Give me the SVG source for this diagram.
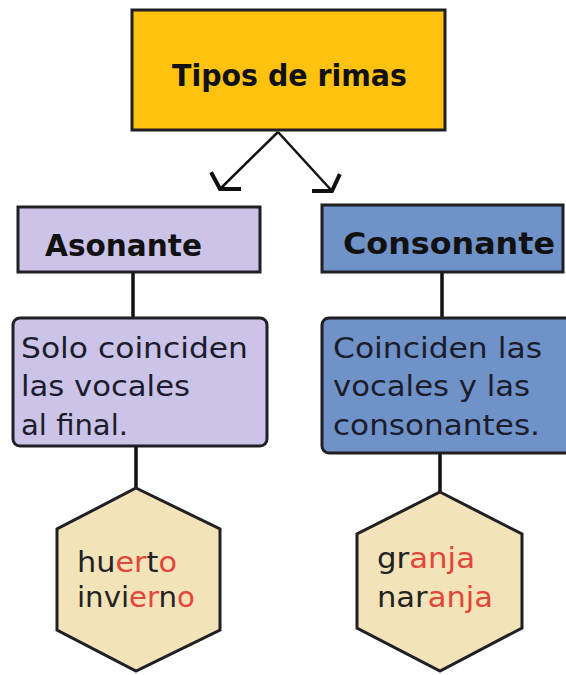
<svg xmlns="http://www.w3.org/2000/svg" width="566" height="675" viewBox="0 0 566 675">
<style>
.box{stroke:#1f1f24;stroke-width:3}
.title{font-family:"DejaVu Sans","Liberation Sans",sans-serif;font-weight:bold;fill:#111}
.desc{font-family:"DejaVu Sans","Liberation Sans",sans-serif;font-size:29px;fill:#1c1c2c}
.word{font-family:"DejaVu Sans","Liberation Sans",sans-serif;font-size:28px;fill:#222}
.r{fill:#e2463a}
.conn{stroke:#111;stroke-width:3.5;fill:none}
.arrow{stroke:#111;stroke-width:2.5;fill:none}
.head{stroke:#111;stroke-width:4;fill:none;stroke-linecap:square;stroke-linejoin:miter}
</style>
<rect width="566" height="675" fill="#ffffff"/>
<g id="connectors">
<line class="arrow" x1="278" y1="132" x2="220" y2="189"/>
<polyline class="head" points="212,174 220,189 239,189"/>
<line class="arrow" x1="278" y1="132" x2="332" y2="191"/>
<polyline class="head" points="339,176 332,191 314,191"/>
<line class="conn" x1="133" y1="272" x2="133" y2="319"/>
<line class="conn" x1="442" y1="272" x2="442" y2="318"/>
<line class="conn" x1="136" y1="446" x2="136" y2="488"/>
<line class="conn" x1="440" y1="453" x2="440" y2="492"/>
</g>
<g id="tipos">
<rect class="box" x="132" y="10" width="313" height="120" fill="#fec20f"/>
<text class="title" x="172" y="86" font-size="30" textLength="235" lengthAdjust="spacingAndGlyphs">Tipos de rimas</text>
</g>
<g id="asonante">
<rect class="box" x="18" y="207" width="242" height="65" fill="#cbc3e8"/>
<text class="title" x="45" y="256" font-size="31" textLength="157" lengthAdjust="spacingAndGlyphs">Asonante</text>
</g>
<g id="consonante">
<rect class="box" x="322" y="205" width="241" height="67" fill="#6f92c8"/>
<text class="title" x="343" y="254" font-size="31" textLength="212" lengthAdjust="spacingAndGlyphs">Consonante</text>
</g>
<g id="asonante-desc">
<rect class="box" x="13" y="318" width="254" height="128" rx="7" fill="#cbc3e8"/>
<text class="desc" x="21" y="358" textLength="227" lengthAdjust="spacingAndGlyphs">Solo coinciden</text>
<text class="desc" x="21" y="396" textLength="169" lengthAdjust="spacingAndGlyphs">las vocales</text>
<text class="desc" x="21" y="435" textLength="107" lengthAdjust="spacingAndGlyphs">al final.</text>
</g>
<g id="consonante-desc">
<rect class="box" x="322" y="318" width="256" height="135" rx="7" fill="#6f92c8"/>
<text class="desc" x="333" y="358" textLength="209" lengthAdjust="spacingAndGlyphs">Coinciden las</text>
<text class="desc" x="333" y="396" textLength="197" lengthAdjust="spacingAndGlyphs">vocales y las</text>
<text class="desc" x="333" y="435" textLength="207" lengthAdjust="spacingAndGlyphs">consonantes.</text>
</g>
<g id="ejemplo-asonante">
<polygon class="box" points="136,488 220,529 220,630 136,671 57,630 57,529" fill="#f2e3b8"/>
<text class="word" x="77" y="572" textLength="100" lengthAdjust="spacingAndGlyphs">hu<tspan class="r">er</tspan>t<tspan class="r">o</tspan></text>
<text class="word" x="77" y="607" textLength="118" lengthAdjust="spacingAndGlyphs">invi<tspan class="r">er</tspan>n<tspan class="r">o</tspan></text>
</g>
<g id="ejemplo-consonante">
<polygon class="box" points="440,492 522,534 522,628 440,671 357,628 357,534" fill="#f2e3b8"/>
<text class="word" x="377" y="568" textLength="98" lengthAdjust="spacingAndGlyphs">gr<tspan class="r">anja</tspan></text>
<text class="word" x="377" y="607" textLength="116" lengthAdjust="spacingAndGlyphs">nar<tspan class="r">anja</tspan></text>
</g>
</svg>
